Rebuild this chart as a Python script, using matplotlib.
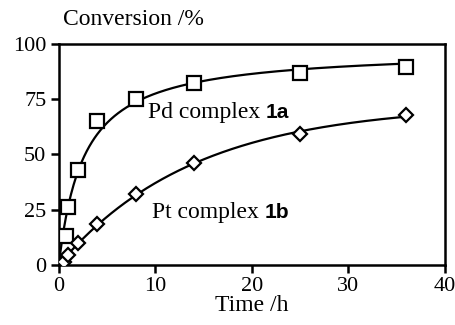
import numpy as np
import matplotlib
matplotlib.use('Agg')
import matplotlib.pyplot as plt

# data
pd_time = [0.7, 1.0, 2.0, 4.0, 8.0, 14.0, 25.0, 36.0]
pd_conv = [13, 26, 43, 65, 75, 82.5, 87, 89.5]
pt_time = [0.5, 1.0, 2.0, 4.0, 8.0, 14.0, 25.0, 36.0]
pt_conv = [1.5, 4.5, 10, 18.5, 32, 46, 59, 68]

def fit_curve(t, y, shape):
  # y = A*g(t; k), grid search on k, A by least squares
  t = np.asarray(t)
  y = np.asarray(y)
  best = None
  for k in np.linspace(0.005, 3.0, 6000):
    if shape == 'hyp':
      g = k*t/(1 + k*t)
    else:
      g = 1 - np.exp(-k*t)
    A = np.dot(g, y)/np.dot(g, g)
    err = np.sum((A*g - y)**2)
    if best is None or err < best[0]:
      best = (err, A, k)
  A, k = best[1], best[2]
  if shape == 'hyp':
    return lambda x: A*k*x/(1 + k*x)
  return lambda x: A*(1 - np.exp(-k*x))

plt.rcParams['font.family'] = 'Liberation Serif'

fig = plt.figure(figsize=(4.56, 3.25), dpi=100)
ax = fig.add_axes([0.129, 0.185, 0.847, 0.68])

tt = np.linspace(0, 36, 400)
for t, y, m, ms, shape in [(pd_time, pd_conv, 's', 9.5, 'hyp'),
                           (pt_time, pt_conv, 'D', 7, 'exp')]:
  f = fit_curve(t, y, shape)
  ax.plot(tt, f(tt), color='black', lw=1.6)
  ax.plot(t, y, m, mfc='white', mec='black', mew=1.6, ms=ms, ls='none', zorder=3)

ax.set_xlim(0, 40)
ax.set_ylim(0, 100)
ax.set_xticks([0, 10, 20, 30, 40])
ax.set_yticks([0, 25, 50, 75, 100])
for s in ax.spines.values():
  s.set_linewidth(1.8)
ax.tick_params(direction='out', length=6, width=1.8, labelsize=16, pad=3)

ax.set_xlabel('Time /h', fontsize=17, labelpad=-1)
fig.text(0.138, 0.94, 'Conversion /%', fontsize=17, va='center', ha='left')

t1 = ax.text(9.2, 69, 'Pd complex ', fontsize=17, va='center')
ax.annotate('1a', xy=(1, 0.5), xycoords=t1, va='center', ha='left',
            fontsize=15, fontweight='bold', family='Liberation Sans')
t2 = ax.text(9.6, 23.5, 'Pt complex ', fontsize=17, va='center')
ax.annotate('1b', xy=(1, 0.5), xycoords=t2, va='center', ha='left',
            fontsize=15, fontweight='bold', family='Liberation Sans')

plt.savefig('out.png', dpi=100)
